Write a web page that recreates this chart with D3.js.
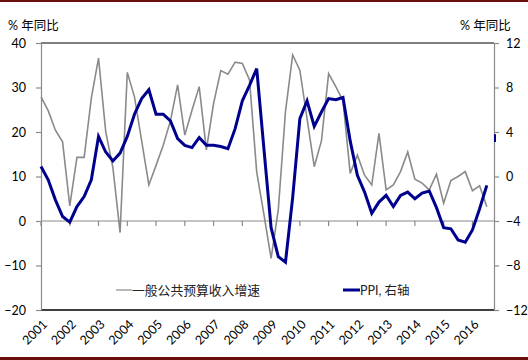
<!DOCTYPE html>
<html><head><meta charset="utf-8">
<script src="https://cdn.jsdelivr.net/npm/d3@7"></script>
<style>
body{margin:0;background:#fff;}
svg{display:block;}
text{font-family:Lato,"Noto Sans CJK SC",sans-serif;}
</style></head>
<body><svg id="c" width="528" height="360"></svg>
<script>
// quarterly, 2001Q1 .. 2016Q3 (64 category slots, last empty)
const yearLabels = ["2001","2002","2003","2004","2005","2006","2007","2008","2009","2010","2011","2012","2013","2014","2015","2016"];
const revenueGrowth = [27.9,24.8,20.4,17.8,3.4,14.3,14.3,27.6,36.6,20.1,12.0,-2.6,33.4,27.9,18.0,8.1,12.5,17.0,22.5,30.6,19.3,24.9,30.2,16.0,26.4,33.8,33.0,35.7,35.4,31.7,11.0,1.5,-8.4,2.5,24.6,37.3,33.9,23.0,12.2,18.0,33.1,30.2,27.0,10.7,14.8,10.3,8.1,19.7,7.0,8.1,11.1,15.5,9.4,8.5,7.0,10.5,4.0,9.1,10.0,11.1,6.8,7.9,3.2];
const ppi = [0.9,-0.3,-2.1,-3.6,-4.1,-2.7,-1.8,-0.3,3.6,2.2,1.4,2.1,3.6,5.6,7.0,7.8,5.6,5.6,5.0,3.4,2.8,2.6,3.5,2.8,2.8,2.7,2.5,4.3,6.8,8.2,9.7,2.5,-4.6,-7.2,-7.7,-1.9,5.2,6.8,4.5,5.8,7.0,6.9,7.1,3.2,0.1,-1.4,-3.3,-2.3,-1.7,-2.7,-1.7,-1.4,-2.0,-1.5,-1.3,-2.8,-4.6,-4.7,-5.7,-5.9,-4.8,-2.9,-0.8];
const leftTicks = [-20,-10,0,10,20,30,40];
const rightTicks = [-12,-8,-4,0,4,8,12];
const seriesNames = ["一般公共预算收入增速","PPI, 右轴"];
const unitLabel = "% 年同比";

const svg = d3.select("#c");
const L = 41, R = 494, T = 43, B = 310;
const x = d3.scaleLinear().domain([0, 63]).range([L, R]);
const yL = d3.scaleLinear().domain([-20, 40]).range([B, T]);
const yR = d3.scaleLinear().domain([-12, 12]).range([B, T]);
const gray = "#8a8a8a", blue = "#00008f";

// frame lines (dark red)
svg.append("rect").attr("x",0).attr("y",0).attr("width",528).attr("height",2).attr("fill","#6a0d0d");
svg.append("rect").attr("x",0).attr("y",357).attr("width",528).attr("height",3).attr("fill","#6a0d0d");

// top / bottom black border
svg.append("line").attr("x1",L).attr("x2",R).attr("y1",T).attr("y2",T).attr("stroke","#000").attr("stroke-width",1.2);
svg.append("line").attr("x1",L).attr("x2",R).attr("y1",B).attr("y2",B).attr("stroke","#000").attr("stroke-width",1.5);

// left axis
const ax1 = svg.append("g").attr("transform",`translate(${L},0)`)
  .call(d3.axisLeft(yL).tickValues(leftTicks).tickSize(5).tickPadding(10).tickSizeOuter(0));
// right axis
const ax2 = svg.append("g").attr("transform",`translate(${R},0)`)
  .call(d3.axisRight(yR).tickValues(rightTicks).tickSize(5).tickPadding(7).tickSizeOuter(0));
[ax1,ax2].forEach(a=>{
  a.select(".domain").attr("stroke",gray).attr("stroke-width",1.2);
  a.selectAll(".tick line").attr("stroke",gray).attr("stroke-width",1.2);
  a.selectAll("text").attr("font-size",12.5).attr("fill","#000").attr("font-family","Lato, sans-serif");
});

// zero line with year ticks
const y0 = yL(0);
svg.append("line").attr("x1",L).attr("x2",R).attr("y1",y0).attr("y2",y0).attr("stroke",gray).attr("stroke-width",1.2);
const yearIdx = yearLabels.map((d,i)=>i*4);
svg.selectAll(".yt").data(yearIdx).join("line")
  .attr("x1",d=>x(d)).attr("x2",d=>x(d)).attr("y1",y0).attr("y2",y0+5)
  .attr("stroke",gray).attr("stroke-width",1.2);

// year labels
svg.selectAll(".yl").data(yearLabels).join("text")
  .attr("transform",(d,i)=>`translate(${x(i*4)+4},${B+12}) rotate(-45)`)
  .attr("text-anchor","end").attr("dy","0.35em")
  .attr("font-size",12.5).attr("fill","#000").text(d=>d);

// lines
const lineL = d3.line().x((d,i)=>x(i)).y(d=>yL(d));
const lineR = d3.line().x((d,i)=>x(i)).y(d=>yR(d));
svg.append("path").attr("d",lineL(revenueGrowth)).attr("fill","none")
  .attr("stroke",gray).attr("stroke-width",1.6).attr("stroke-linejoin","miter");
svg.append("path").attr("d",lineR(ppi)).attr("fill","none")
  .attr("stroke",blue).attr("stroke-width",3).attr("stroke-linejoin","miter");

// small blue artifact on right axis
svg.append("line").attr("x1",R+1).attr("x2",R+1).attr("y1",yR(3.8)).attr("y2",yR(3.1))
  .attr("stroke",blue).attr("stroke-width",2);

// unit labels
svg.append("text").attr("x",8).attr("y",30).attr("font-size",12.5)
  .attr("font-family","Lato, 'Noto Sans CJK SC'").text(unitLabel);
svg.append("text").attr("x",460).attr("y",30).attr("font-size",12.5)
  .attr("font-family","Lato, 'Noto Sans CJK SC'").text(unitLabel);

// legend
const ly = 290;
svg.append("line").attr("x1",116).attr("x2",132).attr("y1",ly).attr("y2",ly).attr("stroke",gray).attr("stroke-width",1.2);
svg.append("text").attr("x",132).attr("y",ly+4.5).attr("font-size",12.8)
  .attr("font-family","'Noto Sans CJK SC'").attr("fill","#222").text(seriesNames[0]);
svg.append("line").attr("x1",343).attr("x2",360).attr("y1",ly).attr("y2",ly).attr("stroke",blue).attr("stroke-width",3);
svg.append("text").attr("x",360).attr("y",ly+4.5).attr("font-size",12.5)
  .attr("font-family","Lato, 'Noto Sans CJK SC'").attr("fill","#222").text(seriesNames[1]);
</script></body></html>
